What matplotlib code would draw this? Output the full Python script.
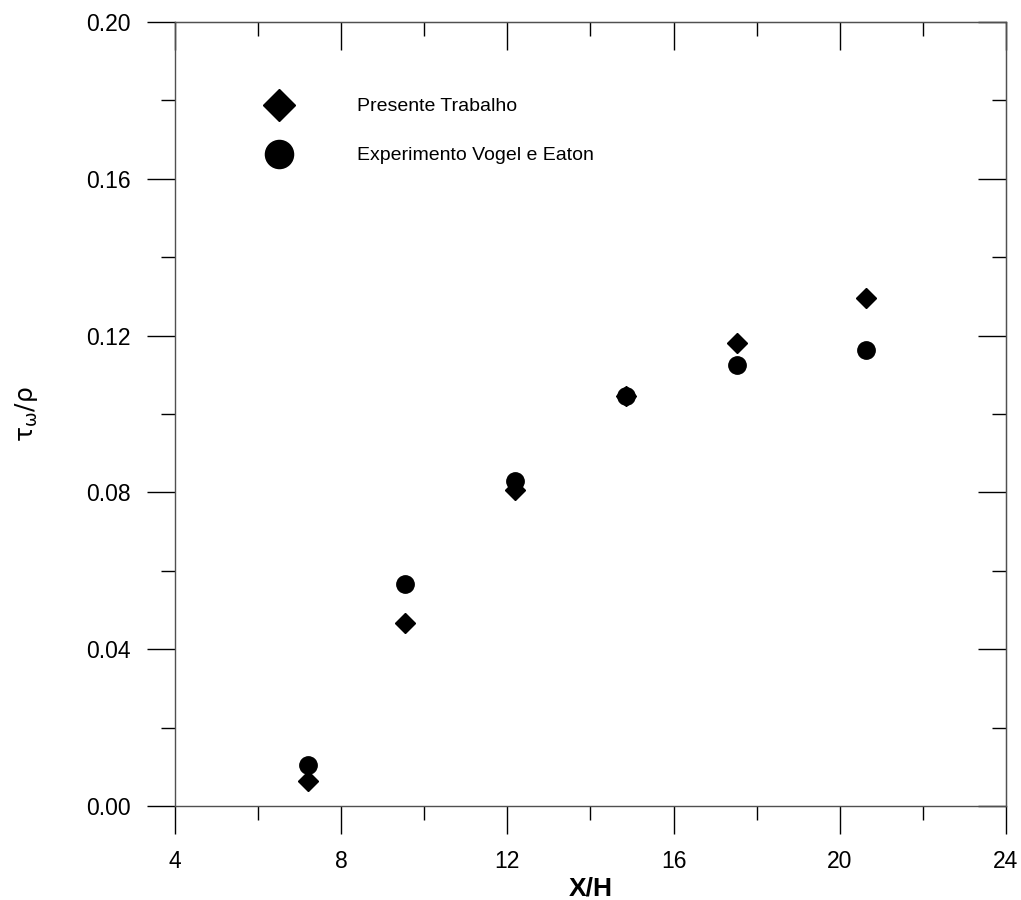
import matplotlib
matplotlib.use("Agg")
import matplotlib.pyplot as plt
from matplotlib.ticker import MultipleLocator, FormatStrFormatter

plt.rcParams['font.family'] = ['Liberation Sans', 'DejaVu Sans']

# dados
x_pos = [7.20, 9.54, 12.18, 14.85, 17.53, 20.63]
presente = [0.0064, 0.0466, 0.0805, 0.1045, 0.1180, 0.1297]
vogel_eaton = [0.0104, 0.0566, 0.0830, 0.1045, 0.1124, 0.1164]

labels = ["Presente Trabalho", "Experimento Vogel e Eaton"]

fig = plt.figure(figsize=(10.21, 9), dpi=100)
ax = fig.add_axes([0.1714, 0.1044, 0.8139, 0.8712])

ax.plot(x_pos, presente, linestyle='none', marker='D', markersize=10.2,
        color='black', label=labels[0])
ax.plot(x_pos, vogel_eaton, linestyle='none', marker='o', markersize=12.5,
        color='black', label=labels[1])

ax.set_xlim(4, 24)
ax.set_ylim(0, 0.20)
ax.xaxis.set_major_locator(MultipleLocator(4))
ax.xaxis.set_minor_locator(MultipleLocator(2))
ax.yaxis.set_major_locator(MultipleLocator(0.04))
ax.yaxis.set_minor_locator(MultipleLocator(0.02))
ax.yaxis.set_major_formatter(FormatStrFormatter('%.2f'))

spine_col = '#505050'
for s in ax.spines.values():
    s.set_color(spine_col)
    s.set_linewidth(1.0)

# ticks para fora em baixo / esquerda
ax.tick_params(which='both', direction='out', top=False, right=False,
               colors='black', width=1.0, labelsize=16.5, pad=12)
ax.tick_params(which='major', length=20)
ax.tick_params(which='minor', length=10)

# ticks para dentro em cima / direita
topax = ax.secondary_xaxis('top')
topax.xaxis.set_major_locator(MultipleLocator(4))
topax.xaxis.set_minor_locator(MultipleLocator(2))
topax.tick_params(which='both', direction='in', labeltop=False, width=1.0, colors='black')
topax.tick_params(which='major', length=20)
topax.tick_params(which='minor', length=10)
topax.spines['top'].set_color(spine_col)

rightax = ax.secondary_yaxis('right')
rightax.yaxis.set_major_locator(MultipleLocator(0.04))
rightax.yaxis.set_minor_locator(MultipleLocator(0.02))
rightax.tick_params(which='both', direction='in', labelright=False, width=1.0, colors='black')
rightax.tick_params(which='major', length=20)
rightax.tick_params(which='minor', length=10)
rightax.spines['right'].set_color(spine_col)

ax.set_xlabel("X/H", fontsize=19, fontweight='bold')
ax.xaxis.set_label_coords(0.5, -0.090)
ax.set_ylabel(r'$\mathrm{\tau_{\omega}/\rho}$', fontsize=18)
ax.yaxis.set_label_coords(-0.163, 0.5)

ax.legend(loc='upper left', bbox_to_anchor=(0.1018, 0.9034), frameon=False,
          fontsize=14, markerscale=1.62, handlelength=2.0, handletextpad=3.0,
          labelspacing=1.62, borderpad=0, borderaxespad=0)

fig.savefig("out.png", dpi=100)
